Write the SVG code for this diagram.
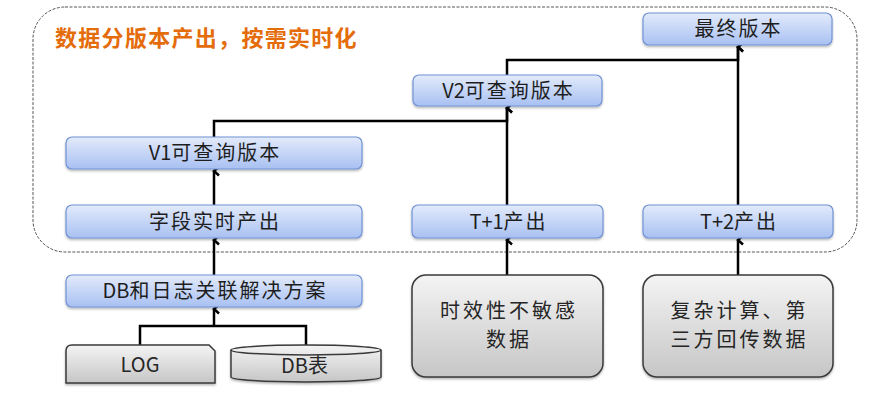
<svg xmlns="http://www.w3.org/2000/svg" width="872" height="395" viewBox="0 0 872 395">
<defs>
<linearGradient id="gBlue" x1="0" y1="0" x2="0" y2="1">
<stop offset="0" stop-color="#e3ebfb"/>
<stop offset="1" stop-color="#a8c0f2"/>
</linearGradient>
<linearGradient id="gGray" x1="0" y1="0" x2="0" y2="1">
<stop offset="0" stop-color="#f4f4f4"/>
<stop offset="1" stop-color="#c6c6c6"/>
</linearGradient>
<marker id="arr" viewBox="0 0 12 12" refX="6" refY="2" markerWidth="12" markerHeight="12" markerUnits="userSpaceOnUse" orient="auto-start-reverse">
<path d="M1.5,7 L6,2 L10.5,7" fill="none" stroke="#000" stroke-width="2.5"/>
</marker>
<filter id="sh" x="-5%" y="-20%" width="110%" height="150%">
<feDropShadow dx="0" dy="1.5" stdDeviation="1.2" flood-color="#000" flood-opacity="0.3"/>
</filter>
</defs>
<style>
.blue{fill:url(#gBlue);stroke:#7193d6;stroke-width:1.2;filter:url(#sh)}
.gray{fill:url(#gGray);stroke:#3a3a3a;stroke-width:1.5;filter:url(#sh)}
.t{font-family:"Noto Sans CJK SC","Noto Sans",sans-serif;font-size:20px;letter-spacing:2px;fill:#1e1e1e;text-anchor:middle}
.tg{font-family:"Noto Sans CJK SC","Noto Sans",sans-serif;font-size:20px;letter-spacing:3px;fill:#262626;text-anchor:middle}
.l{letter-spacing:0px}
.c{fill:none;stroke:#000;stroke-width:2.5}
</style>
<rect x="33" y="7" width="824" height="245" rx="32" ry="32" fill="none" stroke="#555" stroke-width="1" stroke-dasharray="3,1.5"/>
<text x="55" y="46" font-family="Noto Sans CJK SC,sans-serif" font-size="22" letter-spacing="1.3" font-weight="bold" fill="#e46c0a">数据分版本产出，按需实时化</text>
<g id="connectors">
<path class="c" d="M140,345 V326 H306 V345"/>
<path class="c" d="M214,326 V309" marker-end="url(#arr)"/>
<path class="c" d="M214,275 V240" marker-end="url(#arr)"/>
<path class="c" d="M214,205 V171" marker-end="url(#arr)"/>
<path class="c" d="M214,137 V121 H507 V108" marker-end="url(#arr)"/>
<path class="c" d="M507,205 V108" marker-end="url(#arr)"/>
<path class="c" d="M507,75 V60 H738 V47" marker-end="url(#arr)"/>
<path class="c" d="M738,205 V47" marker-end="url(#arr)"/>
<path class="c" d="M507,275 V240" marker-end="url(#arr)"/>
<path class="c" d="M738,275 V240" marker-end="url(#arr)"/>
</g>
<g id="final"><rect class="blue" x="643" y="13" width="189" height="32" rx="6"/><text class="t" x="738.5" y="36">最终版本</text></g>
<g id="v2"><rect class="blue" x="413" y="75" width="189" height="31" rx="6"/><text class="t" x="508.5" y="97.5"><tspan class="l">V2</tspan>可查询版本</text></g>
<g id="v1"><rect class="blue" x="66" y="137" width="296" height="32" rx="6"/><text class="t" x="215" y="160"><tspan class="l">V1</tspan>可查询版本</text></g>
<g id="field"><rect class="blue" x="66" y="205" width="296" height="33" rx="6"/><text class="t" x="215" y="228.5">字段实时产出</text></g>
<g id="t1"><rect class="blue" x="412" y="205" width="191" height="33" rx="6"/><text class="t" x="508.5" y="228.5"><tspan class="l">T+1</tspan>产出</text></g>
<g id="t2"><rect class="blue" x="643" y="205" width="190" height="33" rx="6"/><text class="t" x="739" y="228.5"><tspan class="l">T+2</tspan>产出</text></g>
<g id="dblog"><rect class="blue" x="66" y="275" width="296" height="32" rx="6"/><text class="t" x="215" y="298"><tspan class="l">DB</tspan>和日志关联解决方案</text></g>
<g id="log"><path class="gray" d="M72,345 H209 L215,351 V383 H66 V351 Q66,345 72,345 Z"/><text class="tg l" x="140" y="372">LOG</text></g>
<g id="dbtable"><path class="gray" d="M231,350 A75,5 0 0 1 381,350 V377 A75,5 0 0 1 231,377 Z"/><path d="M231,350 A75,5 0 0 0 381,350" fill="none" stroke="#3a3a3a" stroke-width="1.5"/><text class="tg" x="306" y="373"><tspan class="l">DB</tspan>表</text></g>
<g id="insensitive"><rect class="gray" x="412" y="275" width="191" height="102" rx="14"/><text class="tg" x="509" y="318">时效性不敏感</text><text class="tg" x="509" y="347">数据</text></g>
<g id="complex"><rect class="gray" x="643" y="275" width="190" height="102" rx="14"/><text class="tg" x="739.5" y="318">复杂计算、第</text><text class="tg" x="739.5" y="347">三方回传数据</text></g>
</svg>
